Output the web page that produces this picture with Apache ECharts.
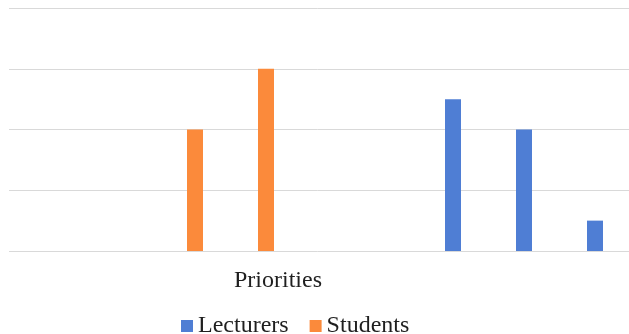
<!DOCTYPE html>
<html>
<head>
<meta charset="utf-8">
<style>
html,body{margin:0;padding:0;background:#fff;}
#chart{width:629px;height:334px;}
</style>
<script src="https://cdn.jsdelivr.net/npm/echarts@6/dist/echarts.min.js"></script>
</head>
<body>
<div id="chart"></div>
<script>
const categories = ['1','2','3','4','5','6','7','8','9'];
const lecturers = [null, null, null, null, null, null, 2.5, 2, 0.5];
const students = [null, null, 2, 3, null, null, null, null, null];
const yTicks = [0, 1, 2, 3, 4];
const axisTitle = 'Priorities';

const chart = echarts.init(document.getElementById('chart'));
const serif = '"Liberation Serif", "Times New Roman", serif';
chart.setOption({
  animation: false,
  grid: { left: 4.5, top: 8, width: 639, height: 243, containLabel: false, outerBoundsMode: 'none' },
  xAxis: {
    type: 'category',
    data: categories,
    axisLine: { show: false },
    axisTick: { show: false },
    axisLabel: { show: false },
    splitLine: { show: false }
  },
  yAxis: {
    type: 'value',
    min: yTicks[0],
    max: yTicks[yTicks.length - 1],
    interval: 1,
    axisLine: { show: false },
    axisTick: { show: false },
    axisLabel: { show: false },
    splitLine: { show: true, lineStyle: { color: '#d9d9d9', width: 1 } }
  },
  legend: {
    data: ['Lecturers', 'Students'],
    left: 176,
    top: 309,
    icon: 'rect',
    itemWidth: 12,
    itemHeight: 12,
    itemGap: 21,
    textStyle: { fontFamily: serif, fontSize: 24, color: '#1f1f1f' }
  },
  graphic: [
    {
      type: 'rect',
      left: 0,
      top: 0,
      z: 100,
      shape: { width: 9, height: 260 },
      style: { fill: '#ffffff' }
    },
    {
      type: 'text',
      left: 234,
      top: 269,
      style: { text: axisTitle, font: '24px "Liberation Serif", serif', fill: '#1f1f1f' }
    }
  ],
  series: [
    { name: 'Lecturers', type: 'bar', data: lecturers, barWidth: 16, barGap: '62.5%', itemStyle: { color: '#4f7ed4' } },
    { name: 'Students', type: 'bar', data: students, barWidth: 16, barGap: '62.5%', itemStyle: { color: '#fb8a3b' } }
  ]
});
</script>
</body>
</html>
